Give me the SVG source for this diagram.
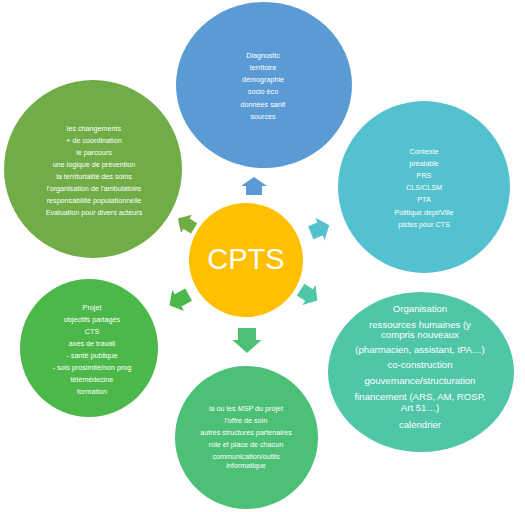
<svg xmlns="http://www.w3.org/2000/svg" xmlns:xlink="http://www.w3.org/1999/xlink" width="525" height="512" viewBox="0 0 525 512">
<style>
.t{font-family:"Liberation Sans",Arial,sans-serif;font-size:7.2px;fill:#ffffff;text-anchor:middle}
.m{font-family:"Liberation Sans",Arial,sans-serif;font-size:9.6px;fill:#ffffff;text-anchor:middle}
.c{font-family:"Liberation Sans",Arial,sans-serif;font-size:29px;fill:#ffffff;text-anchor:middle}
</style>
<rect width="525" height="512" fill="#ffffff"/>
<g id="connectors">
<polygon fill="#5B9BD5" transform="translate(254,186) rotate(-90)" points="-9,-8 0,-8 0,-13 9,0 0,13 0,8 -9,8"/>
<polygon fill="#53C1CE" transform="translate(320,229) rotate(-22)" points="-10,-7 0,-7 0,-12 10,0 0,12 0,7 -10,7"/>
<polygon fill="#70AD47" transform="translate(186,223.5) rotate(-149)" points="-9.5,-6 -0.5,-6 -0.5,-10.5 9.5,0 -0.5,10.5 -0.5,6 -9.5,6"/>
<polygon fill="#4CB84A" transform="translate(179,300) rotate(151)" points="-11,-7 1,-7 1,-12 11,0 1,12 1,7 -11,7"/>
<polygon fill="#4CC175" transform="translate(247,340.5) rotate(90)" points="-12.5,-9 -0.5,-9 -0.5,-14.5 12.5,0 -0.5,14.5 -0.5,9 -12.5,9"/>
<polygon fill="#4FC6A8" transform="translate(309,295) rotate(33)" points="-10,-7 0,-7 0,-12 10,0 0,12 0,7 -10,7"/>
</g>
<g id="diagnostic">
<ellipse cx="264" cy="85" rx="88" ry="83" fill="#5B9BD5"/>
<text class="t" x="263" y="57.5">Diagnostic</text>
<text class="t" x="263" y="69.8">territoire</text>
<text class="t" x="263" y="82.1">démographie</text>
<text class="t" x="263" y="94.4">socio éco</text>
<text class="t" x="263" y="106.7">données sanit</text>
<text class="t" x="263" y="119">sources</text>
</g>
<g id="contexte">
<circle cx="424" cy="187" r="86" fill="#53C1CE"/>
<text class="t" x="424" y="153.5">Contexte</text>
<text class="t" x="424" y="165.7">préalable</text>
<text class="t" x="424" y="177.9">PRS</text>
<text class="t" x="424" y="190.1">CLS/CLSM</text>
<text class="t" x="424" y="202.3">PTA</text>
<text class="t" x="424" y="214.5">Politique dept/Ville</text>
<text class="t" x="424" y="226.7">pistes pour CTS</text>
</g>
<g id="changements">
<circle cx="93" cy="169" r="89" fill="#70AD47"/>
<text class="t" x="94" y="130.5">les changements</text>
<text class="t" x="94" y="142.5">+ de coordination</text>
<text class="t" x="94" y="154.5">le parcours</text>
<text class="t" x="94" y="166.5">une logique de prévention</text>
<text class="t" x="94" y="178.5">la territorialité des soins</text>
<text class="t" x="94" y="190.5">l'organisation de l'ambulatoire</text>
<text class="t" x="94" y="202.5">responsabilité populationnelle</text>
<text class="t" x="94" y="214.5">Evaluation pour divers acteurs</text>
</g>
<g id="projet">
<circle cx="89" cy="348" r="69" fill="#4CB84A"/>
<text class="t" x="92" y="309.5">Projet</text>
<text class="t" x="92" y="321.6">objectifs partagés</text>
<text class="t" x="92" y="333.7">CTS</text>
<text class="t" x="92" y="345.8">axes de travail</text>
<text class="t" x="92" y="357.9">- santé publique</text>
<text class="t" x="92" y="370">- sois prosimité/non prog</text>
<text class="t" x="92" y="382.1">télémédecine</text>
<text class="t" x="92" y="394.2">formation</text>
</g>
<g id="msp">
<circle cx="246.5" cy="437.5" r="71.5" fill="#4CC175"/>
<text class="t" x="246" y="410.5">la ou les MSP du projet</text>
<text class="t" x="246" y="423">l'offre de soin</text>
<text class="t" x="246" y="435">autres structures partenaires</text>
<text class="t" x="246" y="447">role et place de chacun</text>
<text class="t" x="246" y="459">communication/outils</text>
<text class="t" x="246" y="467.5">informatique</text>
</g>
<g id="organisation">
<ellipse cx="421" cy="372" rx="93" ry="80" fill="#4FC6A8"/>
<text class="m" x="420" y="311.5">Organisation</text>
<text class="m" x="420" y="327.5">ressources humaines (y</text>
<text class="m" x="420" y="337.5">compris nouveaux</text>
<text class="m" x="420" y="352.5">(pharmacien, assistant, IPA…)</text>
<text class="m" x="420" y="367.5">co-construction</text>
<text class="m" x="420" y="383.5">gouvernance/structuration</text>
<text class="m" x="420" y="399.5">financement (ARS, AM, ROSP,</text>
<text class="m" x="420" y="410.5">Art 51…)</text>
<text class="m" x="420" y="427.5">calendrier</text>
</g>
<g id="cpts">
<circle cx="246" cy="260" r="57" fill="#FFC000"/>
<text class="c" x="246" y="269">CPTS</text>
</g>
</svg>
